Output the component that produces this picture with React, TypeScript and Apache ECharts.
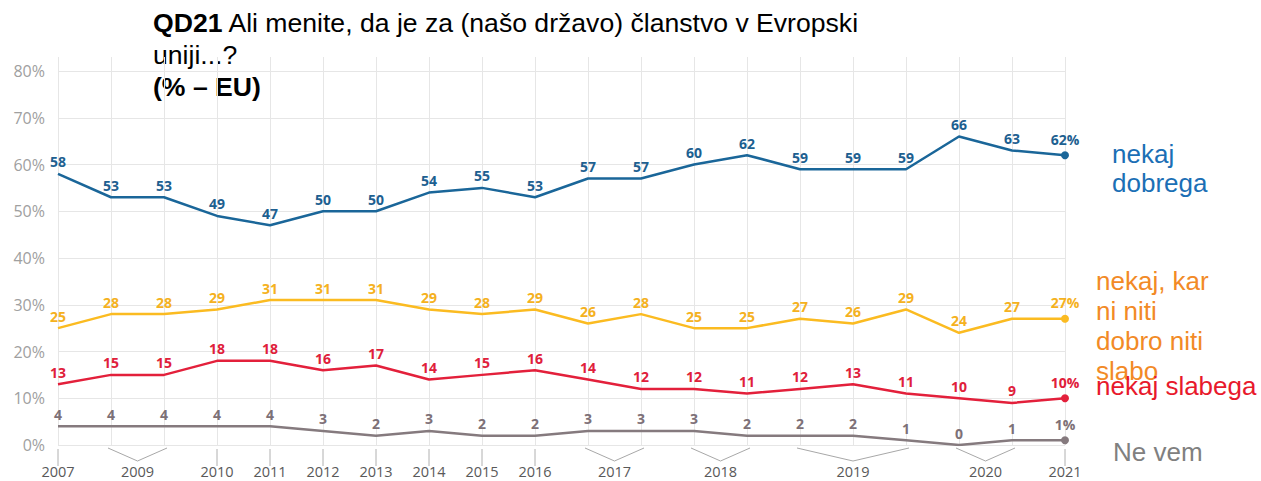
import React, { useEffect, useRef } from "react";
import * as echarts from "echarts";

// ---- data ----
const periods = [
  "2007", "2009a", "2009b", "2010", "2011", "2012", "2013", "2014", "2015", "2016",
  "2017a", "2017b", "2018a", "2018b", "2019a", "2019b", "2019c", "2020a", "2020b", "2021",
];
const nekajDobrega = [58, 53, 53, 49, 47, 50, 50, 54, 55, 53, 57, 57, 60, 62, 59, 59, 59, 66, 63, 62];
const niNiti = [25, 28, 28, 29, 31, 31, 31, 29, 28, 29, 26, 28, 25, 25, 27, 26, 29, 24, 27, 27];
const nekajSlabega = [13, 15, 15, 18, 18, 16, 17, 14, 15, 16, 14, 12, 12, 11, 12, 13, 11, 10, 9, 10];
const neVem = [4, 4, 4, 4, 4, 3, 2, 3, 2, 2, 3, 3, 3, 2, 2, 2, 1, 0, 1, 1];

// year labels on the x axis: [first period index, last period index]
const yearLabels = ["2007", "2009", "2010", "2011", "2012", "2013", "2014", "2015", "2016", "2017", "2018", "2019", "2020", "2021"];
const yearFrom = [0, 1, 3, 4, 5, 6, 7, 8, 9, 10, 12, 14, 17, 19];
const yearTo = [0, 2, 3, 4, 5, 6, 7, 8, 9, 11, 13, 16, 18, 19];

const yTicks = [0, 10, 20, 30, 40, 50, 60, 70, 80];

const FONT = "'Open Sans', sans-serif";
const ARIAL = "'Liberation Sans', Arial, sans-serif";

function lineSeries(name: string, data: number[], color: string, labelColor: string) {
  const last = data.length - 1;
  return {
    name,
    type: "line",
    data,
    showSymbol: true,
    showAllSymbol: true,
    symbol: "circle",
    symbolSize: (_v: any, p: any) => (p.dataIndex === last ? 8 : 0),
    itemStyle: { color },
    lineStyle: { color, width: 2.5 },
    label: {
      show: true,
      position: "top",
      distance: 5,
      color: labelColor,
      fontFamily: FONT,
      fontWeight: "bold",
      fontSize: 14,
      formatter: (p: any) => (p.dataIndex === last ? p.value + "%" : String(p.value)),
    },
    z: 3,
  };
}

export default function App() {
  const ref = useRef<HTMLDivElement>(null);
  useEffect(() => {
    if (!ref.current) return;
    const chart = echarts.init(ref.current, undefined, { renderer: "svg" });
    const gridColors = yTicks.map(() => "#e6e6e6").concat(["rgba(0,0,0,0)"]);
    const option: any = {
      animation: false,
      backgroundColor: "#ffffff",
      textStyle: { fontFamily: FONT },
      grid: { left: 58, right: 196, top: 57, bottom: 36, containLabel: false },
      xAxis: {
        type: "category",
        data: periods,
        boundaryGap: false,
        axisLine: { show: false },
        axisTick: { show: false },
        axisLabel: { show: false },
        splitLine: { show: true, lineStyle: { color: "#e6e6e6", width: 1 } },
      },
      yAxis: {
        type: "value",
        min: 0,
        max: 83,
        interval: 10,
        axisLine: { show: false },
        axisTick: { show: false },
        axisLabel: {
          color: "#a0a0a0",
          fontSize: 16,
          fontFamily: FONT,
          margin: 13,
          formatter: (v: number) => (yTicks.indexOf(v) >= 0 ? v + "%" : ""),
        },
        splitLine: { show: true, lineStyle: { color: gridColors, width: 1 } },
      },
      series: [
        lineSeries("nekaj dobrega", nekajDobrega, "#1a6699", "#1d6090"),
        lineSeries("nekaj, kar ni niti dobro niti slabo", niNiti, "#fbbb21", "#f5b120"),
        lineSeries("nekaj slabega", nekajSlabega, "#e3203b", "#e0203a"),
        lineSeries("Ne vem", neVem, "#857a7e", "#7d7076"),
        {
          type: "custom",
          coordinateSystem: "cartesian2d",
          silent: true,
          clip: false,
          data: yearLabels.map((_l, i) => [yearFrom[i], 0, yearTo[i]]),
          encode: { x: 0, y: 1 },
          renderItem: (params: any, api: any) => {
            const from = api.value(0);
            const to = api.value(2);
            const p0 = api.coord([from, 0]);
            const p1 = api.coord([to, 0]);
            const y0 = p0[1];
            const label = yearLabels[params.dataIndex];
            const children: any[] = [];
            let tx = p0[0];
            if (from === to) {
              children.push({
                type: "line",
                shape: { x1: p0[0], y1: y0 + 4, x2: p0[0], y2: y0 + 21 },
                style: { stroke: "#b0b0b0", lineWidth: 1 },
              });
            } else {
              tx = (p0[0] + p1[0]) / 2;
              children.push({
                type: "polyline",
                shape: { points: [[p0[0] - 3, y0 + 3], [tx, y0 + 16], [p1[0] + 3, y0 + 3]] },
                style: { stroke: "#a8a8a8", lineWidth: 1, fill: "none" },
              });
            }
            children.push({
              type: "text",
              x: tx,
              y: y0 + 26,
              style: {
                text: label,
                fill: "#595959",
                font: "14.5px " + FONT,
                align: "center",
                verticalAlign: "middle",
              },
            });
            return { type: "group", children };
          },
          z: 1,
        },
      ],
      graphic: [
        {
          type: "text",
          left: 153,
          top: 7,
          style: {
            text: "{b|QD21} Ali menite, da je za (našo državo) članstvo v Evropski\nuniji...?\n{b|(% – EU)}",
            font: "26.6px " + ARIAL,
            fill: "#000000",
            lineHeight: 32,
            rich: {
              b: { fontWeight: "bold", fontSize: 26.6, fontFamily: ARIAL, fill: "#000000", lineHeight: 32 },
            },
          },
        },
        {
          type: "text",
          left: 1112,
          top: 139,
          style: { text: "nekaj\ndobrega", font: "26px " + ARIAL, fill: "#1b6fb5", lineHeight: 29 },
        },
        {
          type: "text",
          left: 1096,
          top: 266,
          style: { text: "nekaj, kar\nni niti\ndobro niti\nslabo", font: "26px " + ARIAL, fill: "#f28a26", lineHeight: 30 },
        },
        {
          type: "text",
          left: 1096,
          top: 371,
          style: { text: "nekaj slabega", font: "26px " + ARIAL, fill: "#e8192c", lineHeight: 30 },
        },
        {
          type: "text",
          left: 1113,
          top: 437,
          style: { text: "Ne vem", font: "26px " + ARIAL, fill: "#808080", lineHeight: 30 },
        },
      ],
    };
    chart.setOption(option);
    return () => chart.dispose();
  }, []);
  return (
    <div
      ref={ref}
      style={{ position: "fixed", left: 0, top: 0, width: 1261, height: 481, background: "#fff" }}
    />
  );
}
